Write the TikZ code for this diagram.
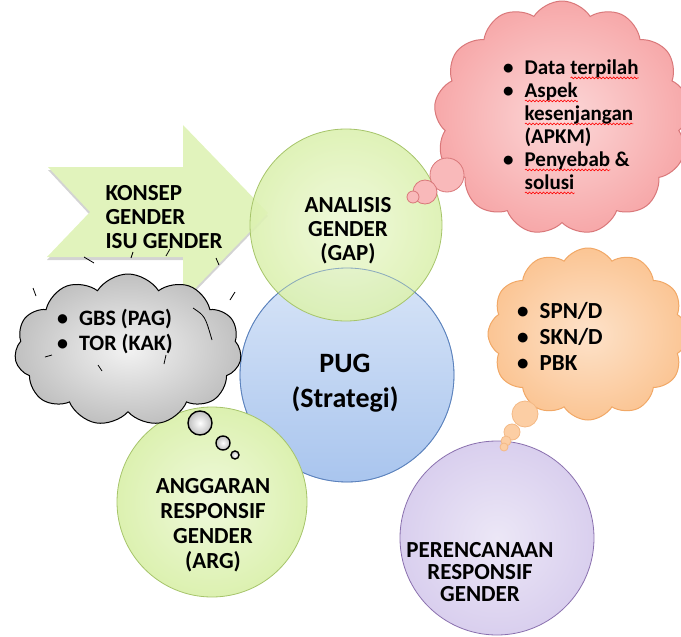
\documentclass[tikz,border=0pt]{standalone}
\usepackage{fontspec}
\setmainfont{Carlito}
\usetikzlibrary{shapes.symbols,shadows,decorations.pathmorphing}

\definecolor{leaf}{HTML}{DCF1B0}
\definecolor{leafline}{HTML}{A6C46A}
\definecolor{sky}{HTML}{A9C5EE}
\definecolor{skyline}{HTML}{5B82BD}
\definecolor{lilac}{HTML}{D9CFEE}
\definecolor{lilacline}{HTML}{8A70AE}
\definecolor{rose}{HTML}{F7A8A9}
\definecolor{roseline}{HTML}{D9787A}
\definecolor{peach}{HTML}{FBC594}
\definecolor{peachline}{HTML}{F1A866}
\definecolor{ash}{HTML}{C0C0C0}

% red wavy underline of the spell checker
\newsavebox{\spellbox}
\newcommand{\spell}[1]{\sbox{\spellbox}{#1}%
  \rlap{\raisebox{-5pt}{\tikz[x=1pt,y=1pt]\draw[red, line width=0.6pt,
    decorate, decoration={snake, amplitude=0.9pt, segment length=3.5pt}]
    (0,0) -- (\wd\spellbox,0);}}#1}

\begin{document}
\begin{tikzpicture}[x=1pt, y=-1pt,
  circ/.style={circle, draw, line width=0.8pt, minimum size=#1, inner sep=0pt},
  lbl/.style={font=\fontsize{23}{24}\selectfont\bfseries, align=center, inner sep=0pt},
  listtxt/.style 2 args={font=\fontsize{#1}{#2}\selectfont\bfseries, anchor=west, inner sep=0pt},
  puff/.style={cloud, cloud puffs=#1, cloud puff arc=115, draw, line width=1pt, inner sep=0pt},
  bub/.style={line width=0.8pt},
]
\useasboundingbox (0,0) rectangle (681,637);

% arrow: konsep gender
\fill[leaf!85!white, drop shadow={opacity=0.35, shadow xshift=0pt, shadow yshift=-3pt}]
  (48,167) -- (183,167) -- (183,125) -- (268,213) -- (183,301) -- (183,257)
  -- (47,257) -- (90,212) -- cycle;

% centre circles
\node[circ=214pt, draw=skyline, top color=sky!45!white, bottom color=sky] (pug) at (347,375) {};
\node[circ=192pt, draw=leafline, inner color=leaf!50!white, outer color=leaf, fill opacity=0.9] (gap) at (346,225) {};
\draw[skyline, line width=0.8pt, opacity=0.6] (pug) circle [radius=107pt];
\node[circ=190pt, draw=leafline, inner color=leaf!45!white, outer color=leaf] (arg) at (212,502) {};
\node[circ=194pt, draw=lilacline, inner color=lilac!50!white, outer color=lilac] (prg) at (497,538) {};

% clouds
\node[puff=11, draw=black, inner color=ash!20!white, outer color=ash, minimum width=227pt, minimum height=152pt] (ashcloud) at (128,350) {};
\node[puff=13, draw=roseline, inner color=rose!45!white, outer color=rose, minimum width=256pt, minimum height=234pt] (rosecloud) at (562,118) {};
\node[puff=12, draw=peachline, inner color=peach!50!white, outer color=peach, minimum width=200pt, minimum height=172pt] (peachcloud) at (588,334) {};

% thought bubbles
\foreach \x/\y/\r in {447/175/17, 425/192/12, 413/197/6}
  \draw[bub, draw=roseline, fill=rose!80!white] (\x,\y) circle [radius=\r pt];
\foreach \x/\y/\r in {525/414/13, 512/432/8, 506/441/5, 504/447/4}
  \draw[bub, draw=peachline!80!white, fill=peach!85!white] (\x,\y) circle [radius=\r pt];
\foreach \x/\y/\r in {200/423/12, 223/443/7, 235/455/4}
  \draw[bub, line width=1.4pt, draw=black, inner color=white, outer color=ash] (\x,\y) circle [radius=\r pt];

% loose strokes of the grey cloud
\draw[line width=0.8pt]
  (84,257) -- (94,263)  (133,252) -- (131,258)  (170,249) -- (166,256)
  (216,258) -- (219,265)  (33,288) -- (36,296)  (235,292) -- (230,300)
  (45,357) -- (52,355)  (98,365) -- (102,371)  (166,355) -- (164,364);
\draw[line width=0.8pt] (193,308) .. controls (205,316) .. (212,340);

% texts
\node[lbl, align=left] (konsep) at (164,217) {KONSEP\\GENDER\\ISU GENDER};
\node[lbl] (gaptxt) at (348,231) {ANALISIS\\GENDER\\(GAP)};
\node[lbl, font=\fontsize{28}{35}\selectfont\bfseries] (pugtxt) at (345,383) {PUG\\(Strategi)};
\node[lbl, font=\fontsize{23}{25}\selectfont\bfseries] (argtxt) at (213,525) {ANGGARAN\\RESPONSIF\\GENDER\\(ARG)};
\node[lbl, font=\fontsize{23}{22}\selectfont\bfseries] (prgtxt) at (480,572) {PERENCANAAN\\RESPONSIF\\GENDER};

\node[listtxt={22}{25}] (ashtxt) at (57,333) {%
  \begin{tabular}{@{}l@{\hspace{11pt}}l@{}}
  \textbullet & GBS (PAG)\\
  \textbullet & TOR (KAK)
  \end{tabular}};
\node[listtxt={21}{23}] (rosetxt) at (503,127) {%
  \begin{tabular}{@{}l@{\hspace{11pt}}l@{}}
  \textbullet & Data \spell{terpilah}\\
  \textbullet & \spell{Aspek}\\
              & \spell{kesenjangan}\\
              & (APKM)\\
  \textbullet & \spell{Penyebab} \&\\
              & \spell{solusi}
  \end{tabular}};
\node[listtxt={23}{26}] (peachtxt) at (517,339) {%
  \begin{tabular}{@{}l@{\hspace{11pt}}l@{}}
  \textbullet & SPN/D\\
  \textbullet & SKN/D\\
  \textbullet & PBK
  \end{tabular}};

\end{tikzpicture}
\end{document}
